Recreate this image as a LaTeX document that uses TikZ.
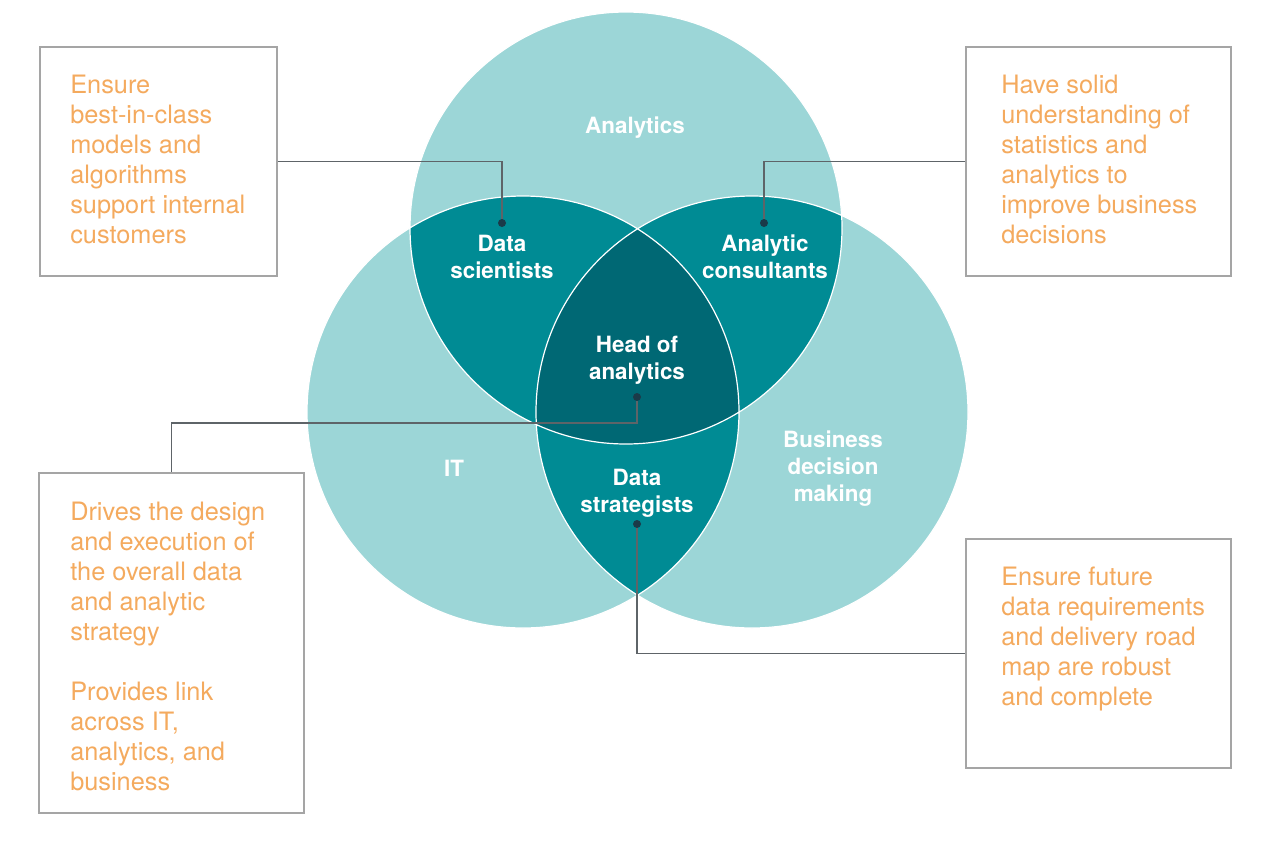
\documentclass[tikz,border=0pt]{standalone}
\usepackage{fontspec}
\setmainfont{TeX Gyre Heros}
\usetikzlibrary{positioning}
\definecolor{tealLight}{HTML}{9CD6D7}
\definecolor{tealMid}{HTML}{008B94}
\definecolor{tealDark}{HTML}{006874}
\definecolor{noteOrange}{HTML}{F4AA5E}
\definecolor{boxGray}{HTML}{A5A5A5}
\definecolor{leadGray}{HTML}{5E6468}
\definecolor{dotNavy}{HTML}{1B3A49}

\begin{document}
\begin{tikzpicture}[x=0.75pt, y=-0.75pt,
  setlbl/.style={text=white, font=\fontsize{16.8}{20.25}\selectfont\bfseries, align=center},
  notebox/.style={draw=boxGray, line width=1.2pt, inner sep=0pt},
  notetxt/.style={text=noteOrange, font=\fontsize{19}{22.5}\selectfont, align=left, anchor=north west, inner sep=0pt},
  lead/.style={draw=leadGray, line width=0.8pt},
  pin/.style={circle, fill=dotNavy, inner sep=0pt, minimum size=6pt}]
\useasboundingbox (0,0) rectangle (1280,843);

% the three sets
\fill[tealLight] (626,228) circle[radius=216];
\fill[tealLight] (523,412) circle[radius=216];
\fill[tealLight] (752,412) circle[radius=216];
\begin{scope}
  \clip (626,228) circle[radius=216];
  \fill[tealMid] (523,412) circle[radius=216];
  \fill[tealMid] (752,412) circle[radius=216];
\end{scope}
\begin{scope}
  \clip (523,412) circle[radius=216];
  \fill[tealMid] (752,412) circle[radius=216];
  \clip (752,412) circle[radius=216];
  \fill[tealDark] (626,228) circle[radius=216];
\end{scope}
\draw[white, line width=0.9pt] (626,228) circle[radius=216]
  (523,412) circle[radius=216] (752,412) circle[radius=216];

% set labels
\node[setlbl] (analytics) at (635,128) {Analytics};
\node[setlbl] (it) at (454,468) {IT};
\node[setlbl] (business) at (833,469) {Business\\decision\\making};
\node[setlbl] (scientists) at (502,257) {Data\\scientists};
\node[setlbl] (consultants) at (765,257) {Analytic\\consultants};
\node[setlbl] (head) at (637,360) {Head of\\analytics};
\node[setlbl] (strategists) at (637,493) {Data\\strategists};

% pins
\node[pin] (dsdot) at (502,223) {};
\node[pin] (acdot) at (764,223) {};
\node[pin] (hadot) at (637,397) {};
\node[pin] (dstdot) at (637,524) {};

% note boxes
\node[notebox, minimum width=178pt, minimum height=172pt] (box1) at (158.5,161.5) {};
\node[notebox, minimum width=199pt, minimum height=172pt] (box2) at (1098.5,161.5) {};
\node[notebox, minimum width=199pt, minimum height=255pt] (box3) at (171.5,643) {};
\node[notebox, minimum width=199pt, minimum height=172pt] (box4) at (1098.5,653.5) {};

\node[notetxt] (txt1) at (70,75) {Ensure\\best-in-class\\models and\\algorithms\\support internal\\customers};
\node[notetxt] (txt2) at (1001,75) {Have solid\\understanding of\\statistics and\\analytics to\\improve business\\decisions};
\node[notetxt] (txt3) at (70,502) {Drives the design\\and execution of\\the overall data\\and analytic\\strategy\\[22.5pt]Provides link\\across IT,\\analytics, and\\business};
\node[notetxt] (txt4) at (1001,567) {Ensure future\\data requirements\\and delivery road\\map are robust\\and complete};

% leaders
\coordinate (hadrop) at (637,423);
\draw[lead] (box1.east) -| (dsdot);
\draw[lead] (box2.west) -| (acdot);
\draw[lead] (hadot) -- (hadrop) -| (box3.north);
\draw[lead] (dstdot) |- (box4.west);
\end{tikzpicture}
\end{document}
